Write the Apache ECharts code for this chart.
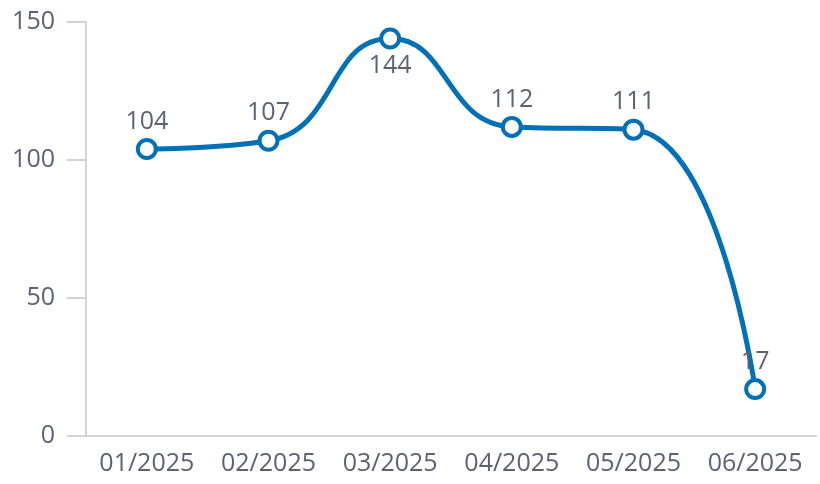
<!DOCTYPE html>
<html><head><meta charset="utf-8">
<script src="https://cdn.jsdelivr.net/npm/echarts@6/dist/echarts.min.js"></script>
<style>html,body{margin:0;padding:0;background:#fff}#c{width:820px;height:484px}</style>
</head><body><div id="c"></div>
<script>
const categories = ['01/2025','02/2025','03/2025','04/2025','05/2025','06/2025'];
const values = [104, 107, 144, 112, 111, 17];
const labelPositions = ['top','top','bottom','top','top','top'];
const yTicks = [0, 50, 100, 150];

const textColor = '#5d6272';
const chart = echarts.init(document.getElementById('c'), null, {renderer:'canvas'});
chart.setOption({
  animation: false,
  textStyle: {fontFamily: 'Open Sans'},
  grid: {left: 86, right: 4, top: 22, bottom: 48, containLabel: false},
  xAxis: {
    type: 'category', data: categories, boundaryGap: true,
    axisLine: {show: true, lineStyle: {color: '#d2d2d8', width: 2}},
    axisTick: {show: false},
    axisLabel: {color: textColor, fontSize: 25, margin: 15, interval: 0, hideOverlap: false, fontFamily: 'Open Sans'}
  },
  yAxis: {
    type: 'value', min: yTicks[0], max: yTicks[yTicks.length-1], interval: 50,
    axisLine: {show: true, lineStyle: {color: '#d2d2d8', width: 2}},
    axisTick: {show: true, length: 19, lineStyle: {color: '#d2d2d8', width: 2}},
    splitLine: {show: false},
    axisLabel: {color: textColor, fontSize: 25, margin: 31, fontFamily: 'Open Sans'}
  },
  series: [{
    type: 'line', smooth: true,
    data: values.map((v, i) => ({value: v, label: {position: labelPositions[i]}})),
    lineStyle: {color: '#0071b7', width: 5},
    symbol: 'circle', symbolSize: 18,
    itemStyle: {color: '#ffffff', borderColor: '#0071b7', borderWidth: 4},
    label: {show: true, color: textColor, fontSize: 25, distance: 4, fontFamily: 'Open Sans'}
  }]
});
</script></body></html>
